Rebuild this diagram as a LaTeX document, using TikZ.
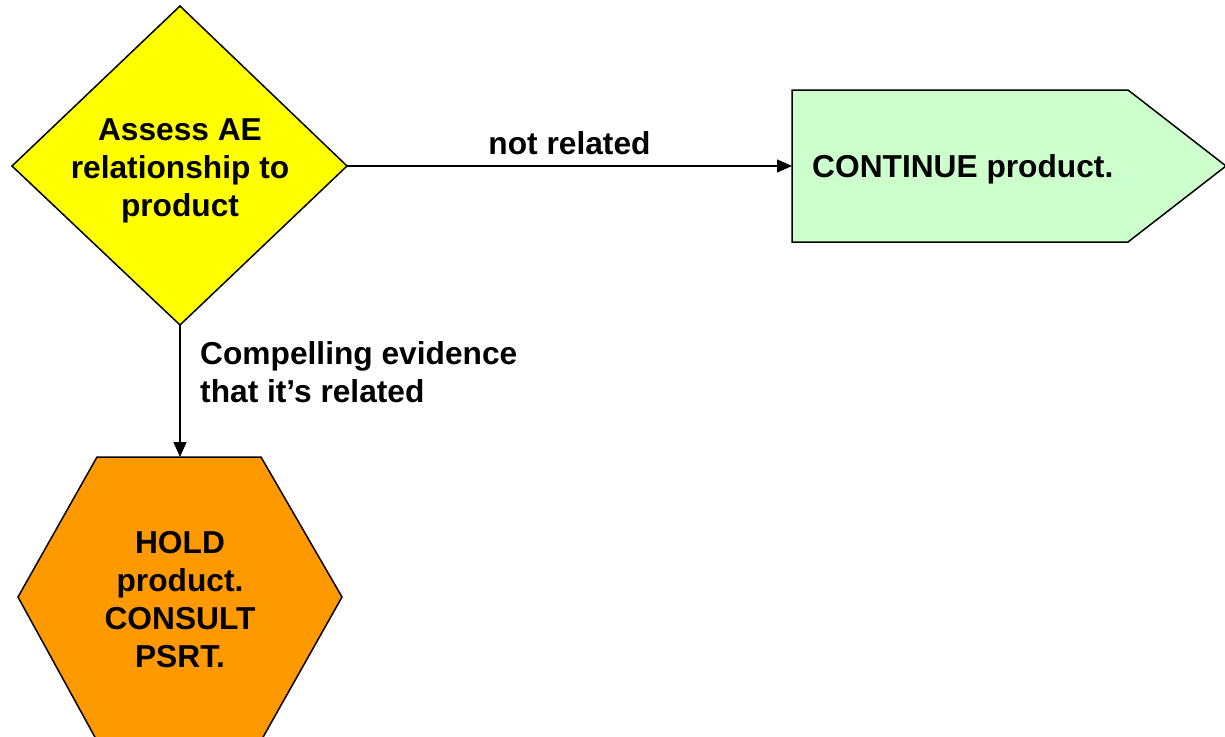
\documentclass[tikz,border=0pt]{standalone}
\usepackage{fontspec}
\setmainfont{Liberation Sans}
\usetikzlibrary{arrows.meta}
\definecolor{dyellow}{HTML}{FFFF00}
\definecolor{dgreen}{HTML}{CCFFCC}
\definecolor{dorange}{HTML}{FF9900}
\tikzset{
  shapeline/.style={draw=black, line width=1.5pt, line join=miter},
  txt/.style={font=\fontsize{31.7}{38}\selectfont\bfseries, inner sep=0pt, align=center},
  conn/.style={draw=black, line width=1.5pt, -{Triangle[length=15pt,width=13pt]}}
}
\begin{document}
\begin{tikzpicture}[x=1pt,y=-1pt]
\useasboundingbox (0,0) rectangle (1225,736);
\clip (0,0) rectangle (1225,736);
% diamond
\coordinate (dL) at (12,166);
\coordinate (dT) at (180,6);
\coordinate (dR) at (347,166);
\coordinate (dB) at (180,325);
\path[shapeline, fill=dyellow] (dL) -- (dT) -- (dR) -- (dB) -- cycle;
\node[txt] (assess) at (180,171) {Assess AE\\relationship to\\product};
% pentagon
\coordinate (cL) at (792,166);
\path[shapeline, fill=dgreen] (792,90) -- (1128,90) -- (1226,166) -- (1128,242) -- (792,242) -- cycle;
\node[txt, anchor=west] (cont) at (812,169) {CONTINUE product.};
% hexagon
\coordinate (hT) at (180,457);
\path[shapeline, fill=dorange] (97,457) -- (261,457) -- (342,597) -- (262,739) -- (96,739) -- (18,597) -- cycle;
\node[txt] (hold) at (180,600) {HOLD\\product.\\CONSULT\\PSRT.};
% connectors
\draw[conn] (dR) -- node[txt, above=10pt, pos=0.5] (lnr) {not related} (cL);
\draw[conn] (dB) -- (hT);
\node[txt, align=left, anchor=west] (lce) at (200,372) {Compelling evidence\\that it’s related};
\end{tikzpicture}
\end{document}
